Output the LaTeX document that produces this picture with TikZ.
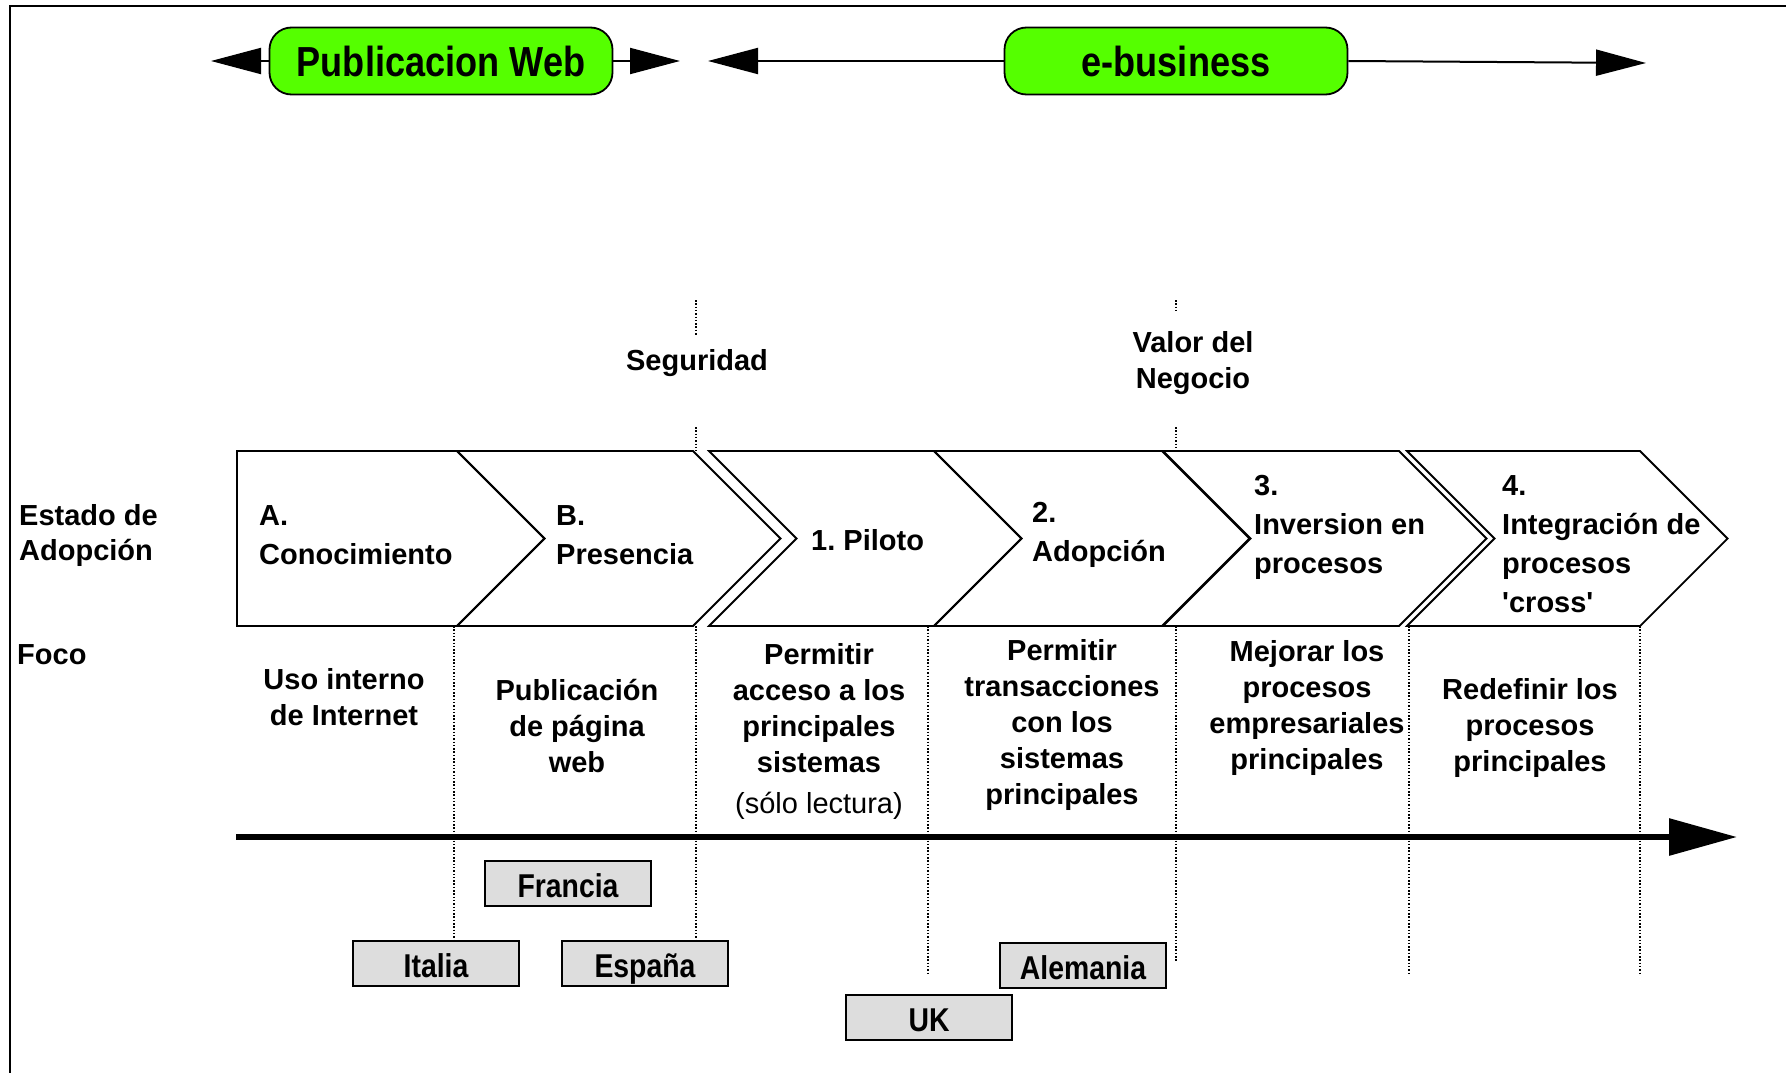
\documentclass[tikz,border=0pt]{standalone}
\usepackage{fontspec}
\setmainfont{Liberation Sans}
\newfontfamily\narrowfont{Liberation Sans}[FakeStretch=0.86]
\usetikzlibrary{arrows.meta}
\definecolor{capsulegreen}{RGB}{85,255,0}
\definecolor{boxgray}{RGB}{221,221,221}
\frenchspacing
\tikzset{
    phase/.style = {draw, line width = 1.8pt, line join = miter},
    capsule/.style = {draw, fill = capsulegreen, line width = 1.8pt, rounded corners = 22pt, minimum width = 343pt, minimum height = 67pt, font = \narrowfont\bfseries\fontsize{42}{46}\selectfont},
    country/.style = {draw, fill = boxgray, line width = 2pt, minimum width = 166pt, minimum height = 45pt, text height = 32pt, text depth = 4pt, inner sep = 2pt, font = \narrowfont\bfseries\fontsize{33}{36}\selectfont},
    etapa/.style = {anchor = west, align = left, inner sep = 0pt, font = \bfseries\fontsize{29}{39}\selectfont},
    foco/.style = {align = center, inner sep = 0pt, font = \bfseries\fontsize{29}{36}\selectfont},
    guia/.style = {dash pattern = on 1.5pt off 1.8pt, line width = 1.4pt},
    flecha/.style = {line width = 2pt, -{Triangle[length = 50pt, width = 26pt]}},
    eje/.style = {line width = 6pt, -{Triangle[length = 68pt, width = 36pt]}}
}

\begin{document}
\begin{tikzpicture}[x = 1pt, y = -1pt]
        \useasboundingbox (0,0) rectangle (1786,1073);
        \draw[line width = 2.5pt] (10,1073) -- (10,6) -- (1786,6);
        % top
        \node[capsule] (pubweb) at (441,61)  {Publicacion Web};
        \node[capsule] (ebiz)   at (1176,61) {e-business};
        \coordinate (pubL)  at (211,61);
        \coordinate (pubR)  at (680,61);
        \coordinate (ebizL) at (708,61);
        \coordinate (ebizR) at (1646,63);
        \draw[flecha] (pubweb.west) -- (pubL);
        \draw[flecha] (pubweb.east) -- (pubR);
        \draw[flecha] (ebiz.west)   -- (ebizL);
        \draw[flecha] (ebiz.east)   -- (ebizR);
        % guides
        \node[foco] (segur) at (697,363)  {Seguridad};
        \node[foco] (valor) at (1193,363) {Valor del\\Negocio};
        \draw[guia] (696,300) -- (696,336);
        \draw[guia] (696,427) -- (696,451);
        \draw[guia] (1176,300) -- (1176,313);
        \draw[guia] (1176,427) -- (1176,448);
        \draw[guia] (454,626)  -- (454,941);
        \draw[guia] (696,626)  -- (696,941);
        \draw[guia] (928,626)  -- (928,974);
        \draw[guia] (1176,626) -- (1176,962);
        \draw[guia] (1409,626) -- (1409,974);
        \draw[guia] (1640,626) -- (1640,974);
        % phases
        \draw[phase] (237,451) -- (457,451) -- (544.5,538.5) -- (457,626) -- (237,626) -- cycle;
        \foreach \xl/\xr in {457/693, 709/934, 934/1162, 1163/1399, 1407/1640}
            \draw[phase] (\xl,451) -- (\xr,451) -- (\xr+87.5,538.5) -- (\xr,626) -- (\xl,626) -- (\xl+87.5,538.5) -- cycle;
        \node[etapa, font = \bfseries\fontsize{29}{35}\selectfont] (estado) at (19,535) {Estado de\\Adopción};
        \node[etapa] (focolbl) at (17,655)  {Foco};
        \node[etapa] (conoc)  at (259,535)  {A.\\Conocimiento};
        \node[etapa] (presen) at (556,535)  {B.\\Presencia};
        \node[etapa] (piloto) at (811,540)  {1. Piloto};
        \node[etapa] (adopc)  at (1032,535) {2.\\Adopción};
        \node[etapa] (invers) at (1254,527) {3.\\Inversion en\\procesos};
        \node[etapa] (integr) at (1502,544) {4.\\Integración de\\procesos\\\textquotesingle cross\textquotesingle};
        % focus
        \node[foco] (usoint) at (344,697)  {Uso interno\\de Internet};
        \node[foco] (public) at (577,726)  {Publicación\\de página\\web};
        \node[foco] (acceso) at (819,731)  {Permitir\\acceso a los\\principales\\sistemas\\[5pt]{\mdseries(sólo lectura)}};
        \node[foco] (transa) at (1062,725) {Permitir\\transacciones\\con los\\sistemas\\principales};
        \node[foco] (mejora) at (1307,708) {Mejorar los\\procesos\\empresariales\\principales};
        \node[foco] (redefi) at (1530,728) {Redefinir los\\procesos\\principales};
        % axis
        \coordinate (ejeL) at (236,837);
        \coordinate (ejeR) at (1737,837);
        \draw[eje] (ejeL) -- (ejeR);
        % countries
        \node[country] (francia)  at (568,883)  {Francia};
        \node[country] (italia)   at (436,963)  {Italia};
        \node[country] (espana)   at (645,963)  {España};
        \node[country] (uk)       at (929,1017) {UK};
        \node[country] (alemania) at (1083,965) {Alemania};
\end{tikzpicture}
\end{document}
